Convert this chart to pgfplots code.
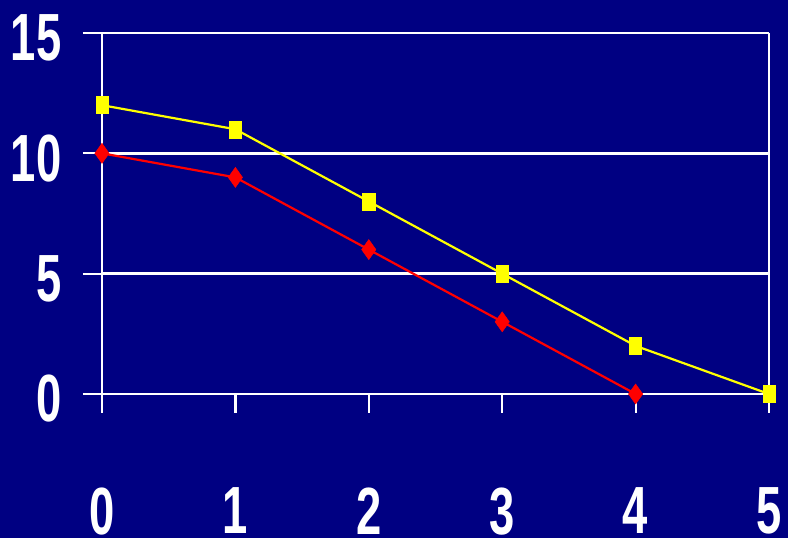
\documentclass[border=0pt]{standalone}
\usepackage{fontspec}
\setmainfont{Liberation Sans}[FakeStretch=0.68]
\usepackage{pgfplots}
\pgfplotsset{compat=1.18}
\definecolor{bg}{HTML}{000082}
\definecolor{ylw}{HTML}{FFFF00}
\definecolor{rd}{HTML}{FF0000}
\begin{document}
\begin{tikzpicture}[x=1bp,y=1bp]
\fill[bg] (-102,-144) rectangle (686,394);
\path[use as bounding box] (-102,-144) rectangle (686,394);
\begin{axis}[
  at={(0,0)}, anchor=origin,
  scale only axis, width=667bp, height=361bp,
  xmin=0, xmax=5, ymin=0, ymax=15,
  axis x line*=bottom, axis y line*=left,
  axis line style={white, line width=2.4bp, -},
  xtick={0,1,2,3,4,5}, ytick={0,5,10,15},
  tick align=outside,
  major tick length=19bp,
  every tick/.style={white, line width=2.2bp},
  ymajorgrids, major grid style={white, line width=2.6bp},
  extra x ticks={5}, extra x tick labels={},
  extra x tick style={xmajorgrids, ymajorgrids=false, major grid style={white, line width=2.4bp}},
  /pgf/number format/assume math mode=true,
  ticklabel style={white, font=\fontsize{67}{67}\selectfont\bfseries},
  yticklabel style={anchor=east, xshift=-18bp, yshift=-5bp},
  xticklabel style={anchor=north, yshift=-71bp},
  clip=false,
]
\addplot[rd, line width=2.2bp, mark=diamond*, mark size=10bp, mark options={xscale=0.95, fill=rd, draw=rd, line width=0.5bp}]
  coordinates {(0,10) (1,9) (2,6) (3,3) (4,0)};
\addplot[ylw, line width=2.2bp, mark=square*, mark size=8.5bp, mark options={xscale=0.72, fill=ylw, draw=ylw, rounded corners=2.5bp, line width=0.5bp}]
  coordinates {(0,12) (1,11) (2,8) (3,5) (4,2) (5,0)};
\end{axis}
\end{tikzpicture}
\end{document}
